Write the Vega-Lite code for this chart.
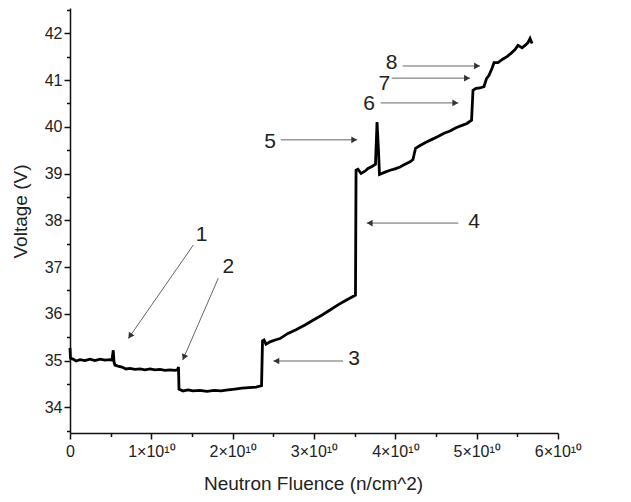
{
  "$schema": "https://vega.github.io/schema/vega-lite/v6.json",
  "width": 488,
  "height": 425,
  "autosize": "none",
  "padding": {"left": 70, "top": 8, "right": 73, "bottom": 69},
  "background": "white",
  "config": {
    "view": {"stroke": null},
    "axis": {
      "domainColor": "#111", "domainWidth": 1.5, "tickColor": "#111", "tickWidth": 1.5,
      "labelFont": "Liberation Sans", "labelFontSize": 16, "labelColor": "#222",
      "titleFont": "Liberation Sans", "titleFontSize": 19, "titleFontWeight": "normal", "titleColor": "#222",
      "grid": false
    }
  },
  "resolve": {"axis": {"x": "independent", "y": "independent"}},
  "datasets": {
    "series": [
      {"f": 0, "v": 35.27}, {"f": 0.06e9, "v": 35.05}, {"f": 0.37e9, "v": 35.03}, {"f": 0.74e9, "v": 34.99},
      {"f": 1.23e9, "v": 35.02}, {"f": 1.84e9, "v": 35.0}, {"f": 2.46e9, "v": 35.03}, {"f": 3.07e9, "v": 35.0},
      {"f": 3.69e9, "v": 35.03}, {"f": 4.3e9, "v": 35.01}, {"f": 4.92e9, "v": 35.02}, {"f": 5.16e9, "v": 35.01},
      {"f": 5.32e9, "v": 35.22}, {"f": 5.41e9, "v": 34.97}, {"f": 5.53e9, "v": 34.9}, {"f": 5.9e9, "v": 34.88},
      {"f": 6.39e9, "v": 34.86}, {"f": 6.89e9, "v": 34.82}, {"f": 7.38e9, "v": 34.83}, {"f": 7.99e9, "v": 34.81},
      {"f": 8.61e9, "v": 34.82}, {"f": 9.22e9, "v": 34.8}, {"f": 9.84e9, "v": 34.82}, {"f": 10.45e9, "v": 34.8},
      {"f": 11.07e9, "v": 34.81}, {"f": 11.68e9, "v": 34.79}, {"f": 12.3e9, "v": 34.8}, {"f": 12.91e9, "v": 34.79},
      {"f": 13.22e9, "v": 34.8}, {"f": 13.34e9, "v": 34.86}, {"f": 13.4e9, "v": 34.39}, {"f": 13.89e9, "v": 34.35},
      {"f": 14.51e9, "v": 34.37}, {"f": 15.12e9, "v": 34.35}, {"f": 15.98e9, "v": 34.36}, {"f": 16.85e9, "v": 34.34},
      {"f": 17.71e9, "v": 34.36}, {"f": 18.57e9, "v": 34.35}, {"f": 19.43e9, "v": 34.37}, {"f": 20.29e9, "v": 34.39},
      {"f": 21.15e9, "v": 34.41}, {"f": 22.01e9, "v": 34.42}, {"f": 22.87e9, "v": 34.43}, {"f": 23.55e9, "v": 34.46},
      {"f": 23.67e9, "v": 35.42}, {"f": 23.85e9, "v": 35.44}, {"f": 24.1e9, "v": 35.35}, {"f": 24.59e9, "v": 35.4},
      {"f": 25.21e9, "v": 35.44}, {"f": 25.82e9, "v": 35.47}, {"f": 26.8e9, "v": 35.58}, {"f": 27.79e9, "v": 35.66},
      {"f": 28.89e9, "v": 35.76}, {"f": 29.88e9, "v": 35.86}, {"f": 30.95e9, "v": 35.97}, {"f": 31.97e9, "v": 36.08},
      {"f": 32.95e9, "v": 36.19}, {"f": 33.94e9, "v": 36.29}, {"f": 34.68e9, "v": 36.36}, {"f": 35.1e9, "v": 36.4},
      {"f": 35.17e9, "v": 39.07}, {"f": 35.41e9, "v": 39.09}, {"f": 35.78e9, "v": 39.0}, {"f": 36.27e9, "v": 39.05},
      {"f": 36.64e9, "v": 39.11}, {"f": 37.13e9, "v": 39.15}, {"f": 37.56e9, "v": 39.2}, {"f": 37.75e9, "v": 40.1},
      {"f": 37.93e9, "v": 39.49}, {"f": 38.05e9, "v": 38.98}, {"f": 38.73e9, "v": 39.03}, {"f": 39.35e9, "v": 39.07},
      {"f": 39.96e9, "v": 39.1}, {"f": 40.58e9, "v": 39.14}, {"f": 41.19e9, "v": 39.2}, {"f": 41.81e9, "v": 39.25},
      {"f": 42.17e9, "v": 39.3}, {"f": 42.48e9, "v": 39.54}, {"f": 43.04e9, "v": 39.6}, {"f": 43.77e9, "v": 39.67},
      {"f": 44.51e9, "v": 39.73}, {"f": 45.25e9, "v": 39.79}, {"f": 45.99e9, "v": 39.86}, {"f": 46.72e9, "v": 39.91},
      {"f": 47.46e9, "v": 39.98}, {"f": 48.2e9, "v": 40.03}, {"f": 48.81e9, "v": 40.07}, {"f": 49.37e9, "v": 40.14},
      {"f": 49.55e9, "v": 40.78}, {"f": 49.92e9, "v": 40.82}, {"f": 50.41e9, "v": 40.83}, {"f": 50.9e9, "v": 40.86},
      {"f": 51.21e9, "v": 41.03}, {"f": 51.52e9, "v": 41.1}, {"f": 51.89e9, "v": 41.25}, {"f": 52.13e9, "v": 41.37},
      {"f": 52.62e9, "v": 41.37}, {"f": 53.24e9, "v": 41.45}, {"f": 53.73e9, "v": 41.5}, {"f": 54.22e9, "v": 41.57},
      {"f": 54.72e9, "v": 41.65}, {"f": 55.08e9, "v": 41.74}, {"f": 55.58e9, "v": 41.69}, {"f": 55.95e9, "v": 41.74},
      {"f": 56.31e9, "v": 41.8}, {"f": 56.56e9, "v": 41.89}, {"f": 56.81e9, "v": 41.78}
    ],
    "notes": [
      {"label": "1", "lx": 16.19e9, "ly": 37.68, "sx": 15.16e9, "sy": 37.47, "tx": 7.17e9, "ty": 35.47},
      {"label": "2", "lx": 19.46e9, "ly": 37.0, "sx": 18.23e9, "sy": 36.76, "tx": 13.86e9, "ty": 35.01},
      {"label": "3", "lx": 34.92e9, "ly": 35.03, "sx": 33.57e9, "sy": 34.99, "tx": 25.0e9, "ty": 34.99},
      {"label": "4", "lx": 49.67e9, "ly": 37.96, "sx": 47.74e9, "sy": 37.94, "tx": 36.48e9, "ty": 37.94},
      {"label": "5", "lx": 24.59e9, "ly": 39.67, "sx": 25.91e9, "sy": 39.72, "tx": 35.31e9, "ty": 39.72},
      {"label": "6", "lx": 36.76e9, "ly": 40.49, "sx": 38.2e9, "sy": 40.51, "tx": 47.74e9, "ty": 40.51},
      {"label": "7", "lx": 38.65e9, "ly": 40.92, "sx": 39.55e9, "sy": 41.04, "tx": 49.18e9, "ty": 41.04},
      {"label": "8", "lx": 39.55e9, "ly": 41.36, "sx": 40.91e9, "sy": 41.3, "tx": 50.41e9, "ty": 41.3}
    ]
  },
  "layer": [
    {
      "data": {"name": "series"},
      "mark": {"type": "line", "color": "#000", "strokeWidth": 2.8, "strokeJoin": "miter"},
      "encoding": {
        "x": {"field": "f", "type": "quantitative",
          "scale": {"domain": [0, 6e10], "nice": false, "zero": false},
          "axis": {
            "title": "Neutron Fluence (n/cm^2)", "orient": "bottom",
            "values": [0, 1e10, 2e10, 3e10, 4e10, 5e10, 6e10],
            "labelExpr": "datum.value === 0 ? '0' : format(datum.value / 1e10, 'd') + '×10¹⁰'",
            "tickSize": 6,
            "labelPadding": 4, "labelFlush": false, "labelOverlap": false,
            "titleX": 243, "titleY": 50, "titleBaseline": "middle", "titleAlign": "center"
          }},
        "y": {"field": "v", "type": "quantitative",
          "scale": {"domain": [33.45, 42.54], "nice": false, "zero": false},
          "axis": {
            "title": "Voltage (V)", "orient": "left",
            "values": [34, 35, 36, 37, 38, 39, 40, 41, 42],
            "format": "d",
            "tickSize": 6,
            "labelPadding": 2, "labelOverlap": false,
            "titleX": -50, "titleY": 203, "titleBaseline": "middle", "titleAlign": "center", "titleAngle": -90
          }}
      }
    },
    {
      "data": {"name": "notes"},
      "mark": {"type": "rule", "color": "#666", "strokeWidth": 1},
      "encoding": {
        "x": {"field": "sx", "type": "quantitative",
          "axis": {"orient": "bottom", "title": null, "labels": false, "domain": false, "tickSize": 3.5,
            "values": [5e9, 1.5e10, 2.5e10, 3.5e10, 4.5e10, 5.5e10]}},
        "y": {"field": "sy", "type": "quantitative",
          "axis": {"orient": "left", "title": null, "labels": false, "domain": false, "tickSize": 3.5,
            "values": [33.5, 34.5, 35.5, 36.5, 37.5, 38.5, 39.5, 40.5, 41.5, 42.5]}},
        "x2": {"field": "tx"},
        "y2": {"field": "ty"}
      }
    },
    {
      "data": {"name": "notes"},
      "transform": [{"filter": "datum.label === '5' || datum.label === '6' || datum.label === '7' || datum.label === '8'"}],
      "mark": {"type": "point", "shape": "triangle-right", "filled": true, "color": "#333", "size": 45, "opacity": 1, "xOffset": -3},
      "encoding": {
        "x": {"field": "tx", "type": "quantitative", "axis": null},
        "y": {"field": "ty", "type": "quantitative", "axis": null}
      }
    },
    {
      "data": {"name": "notes"},
      "transform": [{"filter": "datum.label === '3' || datum.label === '4'"}],
      "mark": {"type": "point", "shape": "triangle-left", "filled": true, "color": "#333", "size": 45, "opacity": 1, "xOffset": 3},
      "encoding": {
        "x": {"field": "tx", "type": "quantitative", "axis": null},
        "y": {"field": "ty", "type": "quantitative", "axis": null}
      }
    },
    {
      "data": {"name": "notes"},
      "transform": [{"filter": "datum.label === '1'"}],
      "mark": {"type": "point", "shape": "triangle-down", "filled": true, "color": "#333", "size": 45, "opacity": 1, "angle": 35, "xOffset": 1.7, "yOffset": -2.5},
      "encoding": {
        "x": {"field": "tx", "type": "quantitative", "axis": null},
        "y": {"field": "ty", "type": "quantitative", "axis": null}
      }
    },
    {
      "data": {"name": "notes"},
      "transform": [{"filter": "datum.label === '2'"}],
      "mark": {"type": "point", "shape": "triangle-down", "filled": true, "color": "#333", "size": 45, "opacity": 1, "angle": 23.5, "xOffset": 1.2, "yOffset": -2.8},
      "encoding": {
        "x": {"field": "tx", "type": "quantitative", "axis": null},
        "y": {"field": "ty", "type": "quantitative", "axis": null}
      }
    },
    {
      "data": {"name": "notes"},
      "mark": {"type": "text", "font": "Liberation Sans", "fontSize": 21, "color": "#222", "align": "center", "baseline": "middle"},
      "encoding": {
        "x": {"field": "lx", "type": "quantitative", "axis": null},
        "y": {"field": "ly", "type": "quantitative", "axis": null},
        "text": {"field": "label"}
      }
    }
  ]
}
